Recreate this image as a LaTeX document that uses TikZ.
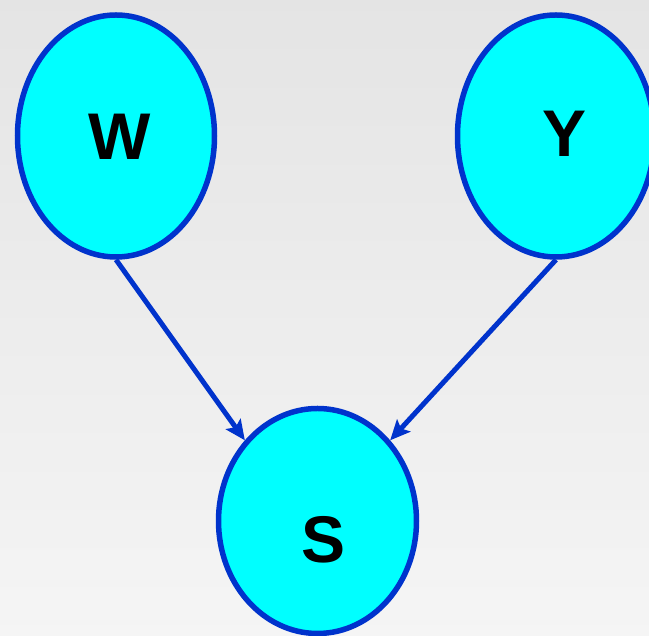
\documentclass[tikz,border=0pt]{standalone}
\usepackage{fontspec}
\setmainfont{Liberation Sans}
\usetikzlibrary{shapes.geometric,arrows.meta}
\definecolor{nodeblue}{HTML}{0033CC}
\definecolor{nodecyan}{HTML}{00FFFF}
\begin{document}
\begin{tikzpicture}[x=1pt,y=1pt]
	\useasboundingbox (0,0) rectangle (649,636);
	\shade [top color=gray!21, bottom color=gray!8] (0,0) rectangle (649,636);

	\begin{scope}[every node/.style={ellipse,draw=nodeblue,fill=nodecyan,line width=5.5pt,inner sep=0pt}]
		\node [minimum width=197pt,minimum height=242pt] (W) at (116,500) {};
		\node [minimum width=197pt,minimum height=242pt] (Y) at (556,500) {};
		\node [minimum width=198pt,minimum height=225pt] (S) at (317.5,115) {};
	\end{scope}

	\begin{scope}[every node/.style={font=\bfseries\fontsize{66}{66}\selectfont}]
		\node (Wtxt) at (120,499) {W};
		\node (Ytxt) at (565,502) {Y};
		\node (Stxt) at (324,96) {S};
	\end{scope}

	\begin{scope}[every edge/.style={draw=nodeblue,line width=5pt}]
		\path [-{Stealth[length=20pt,width=18pt,inset=4pt]}] (W.south) edge (S.132);
		\path [-{Stealth[length=20pt,width=18pt,inset=4pt]}] (Y.south) edge (S.48);
	\end{scope}
\end{tikzpicture}
\end{document}
